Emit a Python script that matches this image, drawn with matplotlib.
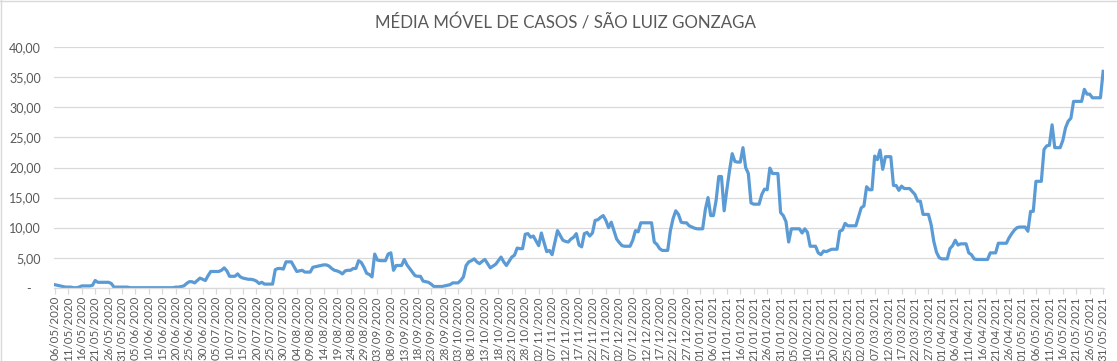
import numpy as np
import pandas as pd
import matplotlib
matplotlib.use("Agg")
import matplotlib.pyplot as plt
from matplotlib.lines import Line2D

# 7-day moving average of cases, one value per day (06/05/2020 .. 31/05/2021)
start_date = "2020-05-06"
end_date = "2021-05-31"
media_movel = [
    0.5, 0.4, 0.3, 0.2, 0.1,  0.1, 0.1, 0.0, 0.0, 0.1,
    0.3, 0.3, 0.3, 0.3, 0.4,  1.2, 0.9, 0.9, 0.9, 0.9,
    0.9, 0.7, 0.1, 0.1, 0.1,  0.1, 0.1, 0.1, 0.0, 0.0,
    0.0, 0.0, 0.0, 0.0, 0.0,  0.0, 0.0, 0.0, 0.0, 0.0,
    0.0, 0.0, 0.0, 0.0, 0.0,  0.1, 0.1, 0.2, 0.3, 0.7,
    1.0, 1.0, 0.8, 1.2, 1.6,  1.4, 1.2, 2.0, 2.7, 2.7,
    2.7, 2.7, 2.9, 3.3, 2.8,  1.9, 1.9, 1.9, 2.3, 1.8,
    1.6, 1.5, 1.4, 1.4, 1.3,  1.1, 0.7, 0.9, 0.6, 0.6,
    0.6, 0.6, 3.0, 3.2, 3.2,  3.1, 4.3, 4.3, 4.3, 3.5,
    2.7, 2.8, 2.9, 2.6, 2.6,  2.6, 3.4, 3.5, 3.6, 3.7,
    3.8, 3.8, 3.6, 3.2, 2.9,  2.8, 2.6, 2.3, 2.8, 2.9,
    2.9, 3.2, 3.2, 4.5, 4.2,  3.4, 2.4, 2.2, 1.8, 5.6,
    4.6, 4.5, 4.5, 4.5, 5.6,  5.8, 2.9, 3.7, 3.7, 3.7,
    4.7, 3.8, 3.2, 2.6, 2.0,  1.9, 1.9, 1.1, 1.0, 0.9,
    0.6, 0.2, 0.2, 0.2, 0.2,  0.3, 0.4, 0.5, 0.8, 0.8,
    0.8, 1.2, 1.8, 3.7, 4.3,  4.5, 4.8, 4.3, 4.0, 4.4,
    4.7, 4.0, 3.3, 3.6, 3.9,  4.5, 5.1, 4.3, 3.7, 4.4,
    5.1, 5.4, 6.6, 6.5, 6.5,  8.9, 9.0, 8.4, 8.6, 7.8,
    7.0, 9.1, 7.5, 6.0, 6.2,  5.5, 7.5, 9.5, 8.7, 7.9,
    7.7, 7.6, 8.1, 8.4, 9.0,  7.1, 6.8, 9.0, 9.2, 8.6,
    9.1, 11.2, 11.3, 11.7, 12.0,  11.2, 10.0, 10.9, 9.5, 8.1,
    7.5, 7.0, 6.9, 6.9, 6.9,  7.9, 9.5, 9.3, 10.8, 10.8,
    10.8, 10.8, 10.8, 7.6, 7.2,  6.5, 6.2, 6.2, 6.2, 9.5,
    11.5, 12.8, 12.2, 10.9, 10.8,  10.8, 10.3, 10.1, 9.9, 9.8,
    9.8, 9.8, 13.0, 15.0, 12.0,  12.0, 14.5, 18.5, 18.5, 12.8,
    16.3, 19.5, 22.3, 21.0, 20.9,  20.9, 23.3, 20.0, 19.0, 14.1,
    13.9, 13.9, 13.9, 15.5, 16.4,  16.3, 19.9, 19.0, 19.0, 19.0,
    12.5, 12.0, 11.0, 7.6, 9.8,  9.8, 9.8, 9.8, 9.1, 9.8,
    9.2, 6.9, 6.9, 6.9, 5.8,  5.5, 6.1, 6.0, 6.2, 6.4,
    6.4, 6.4, 9.4, 9.6, 10.7,  10.3, 10.3, 10.3, 10.3, 11.8,
    13.3, 13.6, 16.8, 16.3, 16.3,  21.9, 21.3, 22.9, 19.7, 21.8,
    21.8, 21.8, 17.0, 17.0, 16.2,  16.9, 16.5, 16.5, 16.5, 16.0,
    15.5, 14.4, 14.4, 12.2, 12.2,  12.2, 10.5, 7.7, 5.9, 5.0,
    4.8, 4.8, 4.8, 6.5, 7.0,  7.9, 7.1, 7.3, 7.3, 7.3,
    5.8, 5.5, 4.8, 4.7, 4.7,  4.7, 4.7, 4.7, 5.8, 5.8,
    5.8, 7.4, 7.4, 7.4, 7.4,  8.3, 9.0, 9.6, 10.0, 10.1,
    10.1, 10.1, 9.4, 12.7, 12.7,  17.7, 17.7, 17.7, 23.0, 23.6,
    23.7, 27.1, 23.3, 23.3, 23.3,  24.5, 26.6, 27.7, 28.2, 31.0,
    31.0, 31.0, 31.0, 33.0, 32.2,  32.2, 31.6, 31.6, 31.6, 31.6,
    36.0,
]
y_ticks = [0, 5, 10, 15, 20, 25, 30, 35, 40]

dates = pd.date_range(start_date, end_date, freq="D")
assert len(dates) == len(media_movel)
x = np.arange(len(dates))

plt.rcParams["font.family"] = ["Lato", "DejaVu Sans"]
grey_txt = "#595959"

fig = plt.figure(figsize=(11.17, 3.61), dpi=100)
ax = fig.add_axes([0.0479, 0.203, 0.9409, 0.666])

ax.plot(x, media_movel, color="#5B9BD5", lw=2.3, solid_joinstyle="round")

ax.set_xlim(-0.5, len(x) - 0.5)
ax.set_ylim(0, 40)
ax.set_yticks(y_ticks)
ax.set_yticklabels(["-   " if v == 0 else f"{v:.2f}".replace(".", ",") for v in y_ticks])
ax.yaxis.grid(True, color="#D9D9D9", lw=0.9)
ax.set_axisbelow(True)

tick_pos = x[::5]
ax.set_xticks(tick_pos)
ax.set_xticklabels([dates[i].strftime("%d/%m/%Y") for i in tick_pos], rotation=90)

for s in ["top", "right", "left"]:
    ax.spines[s].set_visible(False)
ax.spines["bottom"].set_color("#D9D9D9")
ax.spines["bottom"].set_linewidth(0.9)

ax.tick_params(axis="y", length=0, pad=9, labelsize=9, labelcolor=grey_txt)
ax.tick_params(axis="x", length=4, width=0.9, color="#D9D9D9", pad=2,
               labelsize=8.3, labelcolor=grey_txt)

fig.text(0.506, 0.937, "MÉDIA MÓVEL DE CASOS / SÃO LUIZ GONZAGA",
         ha="center", va="center", fontsize=12.2, color=grey_txt)

# chart-area border (only top and left edges are visible in the crop)
fig.add_artist(Line2D([0, 1], [0.998, 0.998], transform=fig.transFigure, color="#D9D9D9", lw=1))
fig.add_artist(Line2D([0.001, 0.001], [0, 1], transform=fig.transFigure, color="#D9D9D9", lw=1))

fig.savefig("out.png", dpi=100)
